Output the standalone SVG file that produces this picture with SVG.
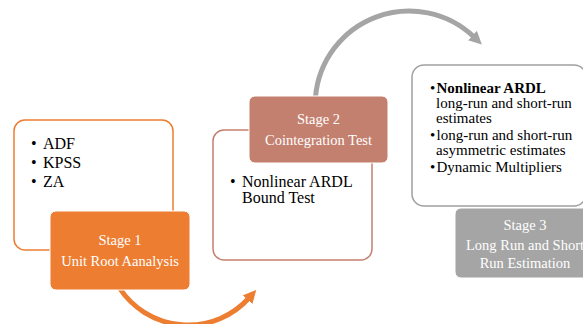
<svg xmlns="http://www.w3.org/2000/svg" width="583" height="324" viewBox="0 0 583 324">
<style>
.t{font-family:"Liberation Serif","Times New Roman",serif;fill:#000}
.lb{font-family:"Liberation Serif","Times New Roman",serif;fill:#FFFFFF;font-size:14.5px;text-anchor:middle}
.b16{font-size:16px}
.b15{font-size:15px}
.card{fill:#FFFFFF;stroke-width:1.5}
.conn{fill:none;stroke-width:5}
</style>
<defs>
<marker id="ahG" markerUnits="userSpaceOnUse" viewBox="0 0 12 12" refX="2" refY="6" markerWidth="13" markerHeight="13" orient="auto">
<path d="M0,0 L12,6 L0,12 z" fill="#A5A5A5"/>
</marker>
<marker id="ahO" markerUnits="userSpaceOnUse" viewBox="0 0 12 12" refX="2" refY="6" markerWidth="13" markerHeight="13" orient="auto">
<path d="M0,0 L12,6 L0,12 z" fill="#ED7D31"/>
</marker>
</defs>
<rect width="583" height="324" fill="#FFFFFF"/>
<g id="connectors">
<path class="conn" d="M 315.5 97 A 94 94 0 0 1 474 37" stroke="#A5A5A5" marker-end="url(#ahG)"/>
<path class="conn" d="M 119.5 288 A 82 82 0 0 0 249 298" stroke="#ED7D31" marker-end="url(#ahO)"/>
</g>
<g id="stage1-detail">
<rect class="card" x="14" y="120" width="159" height="130" rx="11" stroke="#ED7D31"/>
<text class="t b16" x="31" y="149">•</text><text class="t b16" x="43" y="149">ADF</text>
<text class="t b16" x="31" y="168">•</text><text class="t b16" x="43" y="168">KPSS</text>
<text class="t b16" x="31" y="187">•</text><text class="t b16" x="43" y="187">ZA</text>
</g>
<g id="stage1">
<rect x="50" y="211" width="140" height="79" rx="6" fill="#ED7D31" stroke="#FFFFFF" stroke-width="1"/>
<text class="lb" x="120" y="245">Stage 1</text>
<text class="lb" x="120" y="266">Unit Root Aanalysis</text>
</g>
<g id="stage2-detail">
<rect class="card" x="213" y="130" width="159" height="130" rx="11" stroke="#C4806F"/>
<text class="t b16" x="230" y="187">•</text><text class="t b16" x="242" y="187">Nonlinear ARDL</text>
<text class="t b16" x="242" y="203">Bound Test</text>
</g>
<g id="stage2">
<rect x="249" y="96" width="139" height="67" rx="6" fill="#C4806F" stroke="#FFFFFF" stroke-width="1"/>
<text class="lb" x="318.5" y="124">Stage 2</text>
<text class="lb" x="318.5" y="145">Cointegration Test</text>
</g>
<g id="stage3-detail">
<rect class="card" x="412" y="65" width="174" height="141" rx="12" stroke="#A0A0A0"/>
<text class="t b15" x="430" y="93">•</text><text class="t b15" x="436.5" y="93" font-weight="bold">Nonlinear ARDL</text>
<text class="t b15" x="436" y="108">long-run and short-run</text>
<text class="t b15" x="436" y="122.5">estimates</text>
<text class="t b15" x="430" y="140">•</text><text class="t b15" x="436.5" y="140">long-run and short-run</text>
<text class="t b15" x="436" y="154.5">asymmetric estimates</text>
<text class="t b15" x="430" y="172">•</text><text class="t b15" x="436.5" y="172">Dynamic Multipliers</text>
</g>
<g id="stage3">
<rect x="455" y="208" width="140" height="70" rx="6" fill="#A5A5A5" stroke="#FFFFFF" stroke-width="1"/>
<text class="lb" x="525" y="230">Stage 3</text>
<text class="lb" x="525" y="250">Long Run and Short</text>
<text class="lb" x="525" y="267.5">Run Estimation</text>
</g>
</svg>
